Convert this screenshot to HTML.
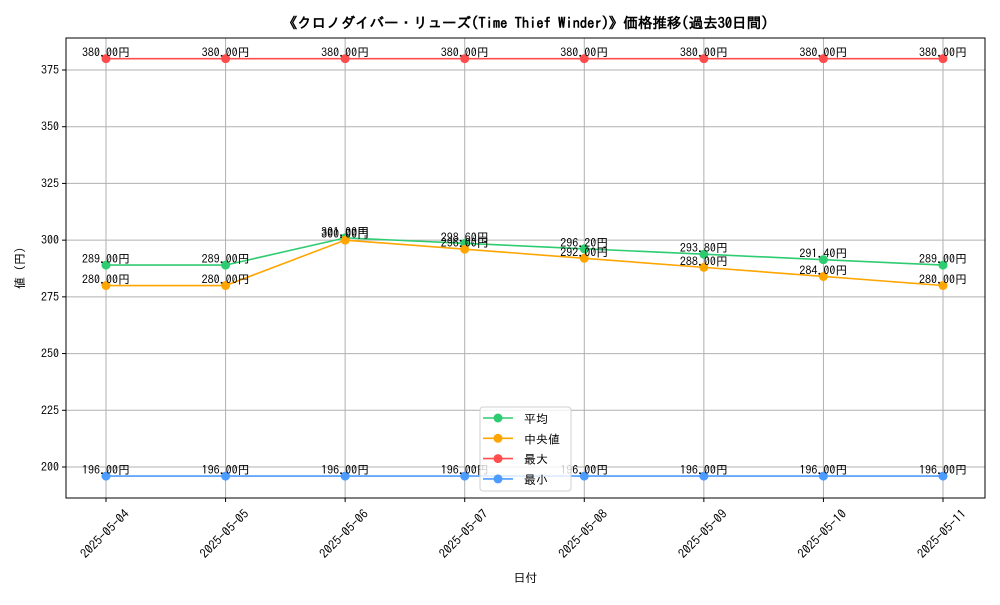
<!DOCTYPE html>
<html><head><meta charset="utf-8"><style>
body{margin:0;background:#fff;}
svg text{font-family:"IPAGothic","Noto Sans CJK JP",monospace;}
</style></head><body>
<svg id="c" width="1000" height="600" xmlns="http://www.w3.org/2000/svg"></svg>
<script>
const categories=["2025-05-04","2025-05-05","2025-05-06","2025-05-07","2025-05-08","2025-05-09","2025-05-10","2025-05-11"];
const avgValues=[289,289,301,298.6,296.2,293.8,291.4,289];
const medianValues=[280,280,300,296,292,288,284,280];
const maxValues=[380,380,380,380,380,380,380,380];
const minValues=[196,196,196,196,196,196,196,196];
const yTicks=[200,225,250,275,300,325,350,375];
const seriesNames=["平均","中央値","最大","最小"];

const svg=document.getElementById('c');
const NS="http://www.w3.org/2000/svg";
const L=66,R=985,T=38,B=498;
function x(i){return 106+i*(943-106)/(categories.length-1);}
function y(v){return 467+(200-v)*(467-70)/175;}
function mk(tag,attrs,parent){const e=document.createElementNS(NS,tag);for(const k in attrs)e.setAttribute(k,attrs[k]);(parent||svg).appendChild(e);return e;}
function txt(s,attrs,parent){const e=mk('text',attrs,parent);e.textContent=s;return e;}

const grid=mk('g',{});


categories.forEach((c,i)=>mk('line',{x1:x(i),x2:x(i),y1:T,y2:B,stroke:'#b0b0b0','stroke-width':1},grid));
yTicks.forEach(v=>mk('line',{x1:L,x2:R,y1:y(v),y2:y(v),stroke:'#b0b0b0','stroke-width':1},grid));

const fr=mk('rect',{x:L,y:T,width:R-L,height:B-T,fill:'none',stroke:'#000','stroke-width':1});



yTicks.forEach(v=>{
 mk('line',{x1:L-4,x2:L,y1:y(v),y2:y(v),stroke:'#000'});
 const t=txt(String(v),{x:L-7,y:y(v)+4,'text-anchor':'end','font-size':12});
 
 
});
categories.forEach((c,i)=>{
 mk('line',{x1:x(i),x2:x(i),y1:B,y2:B+4,stroke:'#000'});
 const cx=x(i)-1, cy=B+36;
 const t=txt(c,{x:cx,y:cy+4,'text-anchor':'middle','font-size':12.5,transform:`rotate(-45 ${cx} ${cy})`});
 
 
});

const series=[[avgValues,'#2ecc71','avg'],[medianValues,'#ffa500','median'],[maxValues,'#ff4c4c','max'],[minValues,'#4c9bff','min']];
series.forEach(([vals,col,nm])=>{
 const g=mk('g',{});
 
 
 mk('polyline',{points:vals.map((v,i)=>x(i)+','+y(v)).join(' '),fill:'none',stroke:col,'stroke-width':1.6},g);
 vals.forEach((v,i)=>{
  const p=mk('circle',{cx:x(i),cy:y(v),r:4.5,fill:col},g);
  
  
 });
 vals.forEach((v,i)=>{
  const t=txt(v.toFixed(2)+'円',{x:x(i),y:y(v)-2,'text-anchor':'middle','font-size':12},g);
  
  
 });
});

const tt=txt('《クロノダイバー・リューズ(Time Thief Winder)》価格推移(過去30日間)',{x:(L+R)/2,y:28,'text-anchor':'middle','font-size':14.5,'font-weight':'bold'});


const xt=txt('日付',{x:(L+R)/2,y:582,'text-anchor':'middle','font-size':12});


const yt=txt('値 (円)',{x:24,y:(T+B)/2,'text-anchor':'middle','font-size':12,transform:`rotate(-90 24 ${(T+B)/2})`});



const lg=mk('g',{});


mk('rect',{x:480,y:407,width:91,height:84,rx:3,fill:'rgba(255,255,255,0.8)',stroke:'#d0d0d0'},lg);
series.forEach(([vals,col,nm],k)=>{
 const ly=418+k*20.3;
 const e=mk('g',{},lg);
 
 
 mk('line',{x1:483,x2:513,y1:ly,y2:ly,stroke:col,'stroke-width':1.6},e);
 mk('circle',{cx:498,cy:ly,r:4.5,fill:col},e);
 txt(seriesNames[k],{x:524,y:ly+5,'font-size':12},e);
});
</script>
</body></html>
